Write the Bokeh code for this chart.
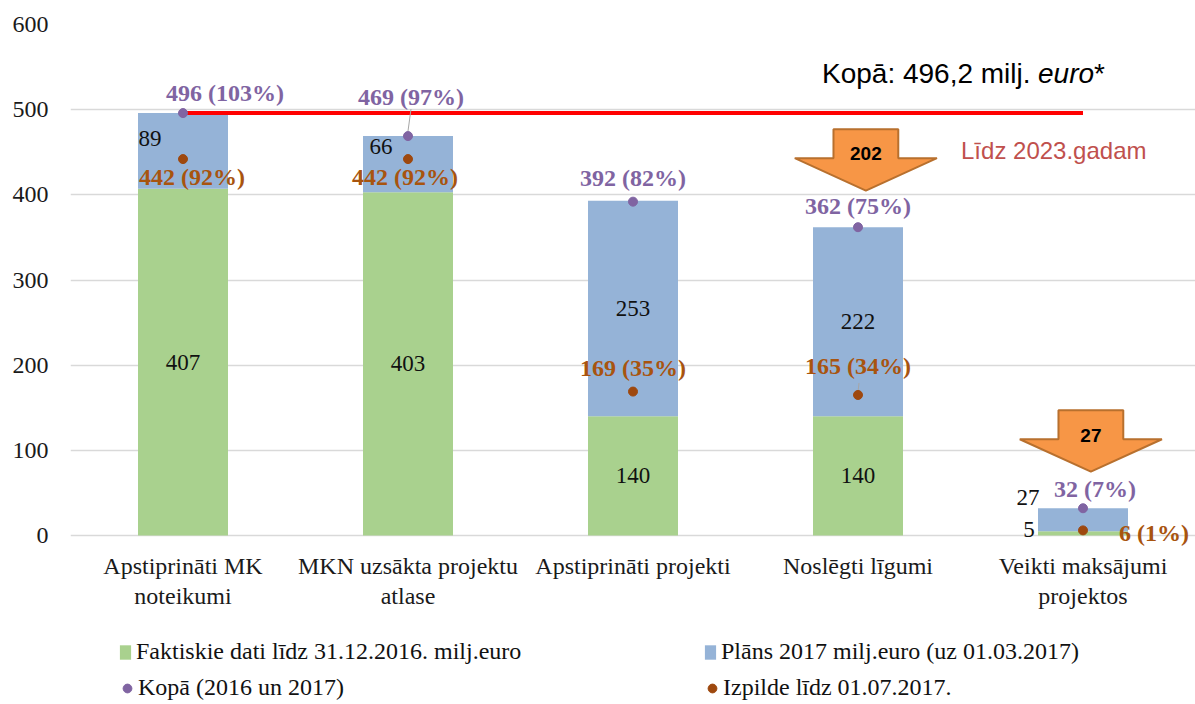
from bokeh.plotting import figure
from bokeh.layouts import column
from bokeh.models import ColumnDataSource, FactorRange, FixedTicker, Legend, LegendItem, Range1d
from bokeh.core.properties import value
from bokeh.embed import file_html
from bokeh.resources import INLINE

# ---------------- data ----------------
categories = [
    "Apstiprināti MK\nnoteikumi",
    "MKN uzsākta projektu\natlase",
    "Apstiprināti projekti",
    "Noslēgti līgumi",
    "Veikti maksājumi\nprojektos",
]
fact_2016 = [407, 403, 140, 140, 5]
plan_2017 = [89, 66, 253, 222, 27]
total = [496, 469, 392, 362, 32]
total_pct = [103, 97, 82, 75, 7]
izpilde = [442, 442, 169, 165, 6]
izpilde_pct = [92, 92, 35, 34, 1]
target_total = 496.2
arrow_values = [202, 27]
arrow_category_index = [3, 4]
y_ticks = [0, 100, 200, 300, 400, 500, 600]
legend_labels = [
    "Faktiskie dati līdz 31.12.2016. milj.euro",
    "Plāns 2017 milj.euro (uz 01.03.2017)",
    "Kopā (2016 un 2017)",
    "Izpilde līdz 01.07.2017.",
]
target_caption = "Līdz 2023.gadam"

# ---------------- style ----------------
GREEN = "#A9D18E"
BLUE = "#95B3D7"
PURPLE = "#8064A2"
BROWN_DOT = "#9E480E"
BROWN_TXT = "#A8540F"
ORANGE = "#F79646"
ORANGE_EDGE = "#B8702E"
SERIF = value("Liberation Serif")
SANS = value("Liberation Sans")

W = 1195
H_MAIN, H_LEG = 620, 84
B_LEFT, B_TOP, B_BOTTOM = 70, 24, 74
Y_MAX = 600
PPU = 511 / Y_MAX                       # px per unit (0 .. 600 spans 511 px)
FRAME_H = H_MAIN - B_TOP - B_BOTTOM
Y_MIN = Y_MAX - FRAME_H / PPU           # a little room below 0 for labels
UNIT_X = 1.0 / ((W - B_LEFT) / len(categories))

# label offsets in screen px (dx, dy; dy positive = down)
green_off = [(0, 0), (0, 0), (0, 0), (0, 0), (-54, -4)]
blue_off = [(-33, -12), (-27, -18), (0, 0), (0, 0), (-55, -22)]
total_off = [(42, -20), (3, -39), (0, -24), (0, -21), (12, -19)]
izp_off = [(9, 18), (-3, 18), (0, -24), (0, -29), (71, 3)]

p = figure(
    x_range=FactorRange(*categories, range_padding=0),
    y_range=Range1d(Y_MIN, Y_MAX),
    width=W, height=H_MAIN,
    output_backend="svg", toolbar_location=None,
    min_border_left=B_LEFT, min_border_right=0,
    min_border_top=B_TOP, min_border_bottom=B_BOTTOM,
)
p.outline_line_color = None
p.background_fill_color = "white"
p.border_fill_color = "white"

src = ColumnDataSource(dict(
    cat=categories, fact=fact_2016, plan=plan_2017,
    total=total, izpilde=izpilde,
    green_mid=[f / 2 for f in fact_2016],
    blue_mid=[f + pl / 2 for f, pl in zip(fact_2016, plan_2017)],
    green_txt=[str(v) for v in fact_2016],
    blue_txt=[str(v) for v in plan_2017],
    total_txt=[f"{t} ({pc}%)" for t, pc in zip(total, total_pct)],
    izp_txt=[f"{t} ({pc}%)" for t, pc in zip(izpilde, izpilde_pct)],
    gdx=[o[0] for o in green_off], gdy=[o[1] for o in green_off],
    bdx=[o[0] for o in blue_off], bdy=[o[1] for o in blue_off],
    tdx=[o[0] for o in total_off], tdy=[o[1] for o in total_off],
    idx_=[o[0] for o in izp_off], idy=[o[1] for o in izp_off],
))

bars = p.vbar_stack(["fact", "plan"], x="cat", width=0.4, color=[GREEN, BLUE],
                    line_color=None, source=src)

# red target line from first to last category
p.segment(x0=[categories[0]], y0=[target_total], x1=[categories[-1]], y1=[target_total],
          line_color="#FF0000", line_width=4)

# leader lines (series, index, start px, end px, dx px)
leaders = [(total, 1, 5, 27, 3), (izpilde, 3, 3, 12, 1)]
for series, i, a, b, dx in leaders:
    xs = i + 0.5
    p.segment(x0=[xs], y0=[series[i] + a / PPU], x1=[xs + dx * UNIT_X], y1=[series[i] + b / PPU],
              line_color="#A6A6A6", line_width=1)

r_tot = p.scatter(x="cat", y="total", size=9, color=PURPLE, source=src)
r_izp = p.scatter(x="cat", y="izpilde", size=9, color=BROWN_DOT, source=src)

# segment value labels
p.text(x="cat", y="green_mid", text="green_txt", x_offset="gdx", y_offset="gdy", source=src,
       text_align="center", text_baseline="middle", text_font=SERIF,
       text_font_size="23px", text_color="#111111")
p.text(x="cat", y="blue_mid", text="blue_txt", x_offset="bdx", y_offset="bdy", source=src,
       text_align="center", text_baseline="middle", text_font=SERIF,
       text_font_size="23px", text_color="#111111")
p.text(x="cat", y="total", text="total_txt", x_offset="tdx", y_offset="tdy", source=src,
       text_align="center", text_baseline="middle", text_font=SERIF, text_font_style="bold",
       text_font_size="24px", text_color=PURPLE)
p.text(x="cat", y="izpilde", text="izp_txt", x_offset="idx_", y_offset="idy", source=src,
       text_align="center", text_baseline="middle", text_font=SERIF, text_font_style="bold",
       text_font_size="24px", text_color=BROWN_TXT)

# block arrows above the last two categories
SHAFT, HEAD, XSHIFT = 0.144, 0.316, 0.035
TIP, NECK, TOP = 43, 81, 115
axs, ays, ax_txt, ay_txt, a_txt = [], [], [], [], []
for v, ci in zip(arrow_values, arrow_category_index):
    c = ci + 0.5 + XSHIFT
    base = total[ci]
    axs.append([c - SHAFT, c + SHAFT, c + SHAFT, c + HEAD, c, c - HEAD, c - SHAFT])
    ays.append([base + TOP, base + TOP, base + NECK, base + NECK, base + TIP, base + NECK, base + NECK])
    ax_txt.append(c)
    ay_txt.append(base + 86)
    a_txt.append(str(v))
p.patches(xs=axs, ys=ays, fill_color=ORANGE, line_color=ORANGE_EDGE, line_width=2)
p.text(x=ax_txt, y=ay_txt, text=a_txt, text_align="center", text_baseline="middle",
       text_font=SANS, text_font_style="bold", text_font_size="19px", text_color="black")

# total caption
CAP_X, CAP_Y = 3.34, 543
cap_main = f"Kopā: {target_total:.1f}".replace(".", ",") + " milj. "
p.text(x=[CAP_X], y=[CAP_Y], text=[cap_main], text_align="left", text_baseline="middle",
       text_font=SANS, text_font_size="28px", text_color="black")
p.text(x=[CAP_X], y=[CAP_Y], text=["euro"], x_offset=[216], text_align="left", text_baseline="middle",
       text_font=SANS, text_font_size="28px", text_font_style="italic", text_color="black")
p.text(x=[CAP_X], y=[CAP_Y], text=["*"], x_offset=[272], text_align="left", text_baseline="middle",
       text_font=SANS, text_font_size="28px", text_color="black")
p.text(x=[4.37], y=[452], text=[target_caption], text_align="center", text_baseline="middle",
       text_font=SANS, text_font_size="24px", text_color="#C0504D")

# axes
p.yaxis.ticker = FixedTicker(ticks=y_ticks)
p.yaxis.major_label_text_font = "Liberation Serif"
p.yaxis.major_label_text_font_size = "24px"
p.yaxis.major_label_text_color = "#1a1a1a"
p.yaxis.major_label_standoff = 22
p.yaxis.major_tick_out = 0
p.yaxis.major_tick_in = 0
p.yaxis.axis_line_color = None
p.yaxis.major_tick_line_color = None
p.yaxis.minor_tick_line_color = None

p.xaxis.major_label_text_font = "Liberation Serif"
p.xaxis.major_label_text_font_size = "24px"
p.xaxis.major_label_text_color = "#1a1a1a"
p.xaxis.major_label_text_line_height = 1.18
p.xaxis.major_label_standoff = 6
p.xaxis.major_tick_out = 0
p.xaxis.major_tick_in = 0
p.xaxis.axis_line_color = None
p.xaxis.major_tick_line_color = None
p.xaxis.minor_tick_line_color = None

p.xgrid.grid_line_color = None
p.ygrid.grid_line_color = "#D9D9D9"
p.ygrid.grid_line_width = 1.3

# ---------------- legend strip ----------------
# (its frame is aligned with the main frame, which starts at x = B_LEFT)
pl = figure(width=W, height=H_LEG, x_range=(0, 1), y_range=(0, 1),
            x_axis_type=None, y_axis_type=None,
            output_backend="svg", toolbar_location=None,
            min_border_left=0, min_border_right=0, min_border_top=0, min_border_bottom=0)
pl.outline_line_color = None
pl.grid.visible = False
# proxy glyphs placed outside the visible range, only used for legend swatches
lg_g = pl.vbar(x=[5], top=[5], bottom=[4], width=0.1, color=GREEN, line_color=None)
lg_b = pl.vbar(x=[5], top=[5], bottom=[4], width=0.1, color=BLUE, line_color=None)
lg_p = pl.scatter(x=[5], y=[5], size=9, color=PURPLE)
lg_o = pl.scatter(x=[5], y=[5], size=9, color=BROWN_DOT)

common = dict(orientation="horizontal", label_text_font="Liberation Serif",
              label_text_font_size="24px", label_text_color="#111111",
              padding=0, margin=0, spacing=0, border_line_color=None,
              background_fill_alpha=0)
leg_top = Legend(items=[LegendItem(label=legend_labels[0], renderers=[lg_g]),
                        LegendItem(label=legend_labels[1], renderers=[lg_b])],
                 location=(118 - B_LEFT, 39), glyph_width=14, glyph_height=18,
                 label_standoff=4, label_width=567, **common)
leg_bot = Legend(items=[LegendItem(label=legend_labels[2], renderers=[lg_p]),
                        LegendItem(label=legend_labels[3], renderers=[lg_o])],
                 location=(116 - B_LEFT, 3), glyph_width=22, glyph_height=22,
                 label_standoff=0, label_width=563, **common)
pl.add_layout(leg_top, "center")
pl.add_layout(leg_bot, "center")

layout = column(p, pl, spacing=0)
open("out.html", "w").write(file_html(layout, INLINE))
